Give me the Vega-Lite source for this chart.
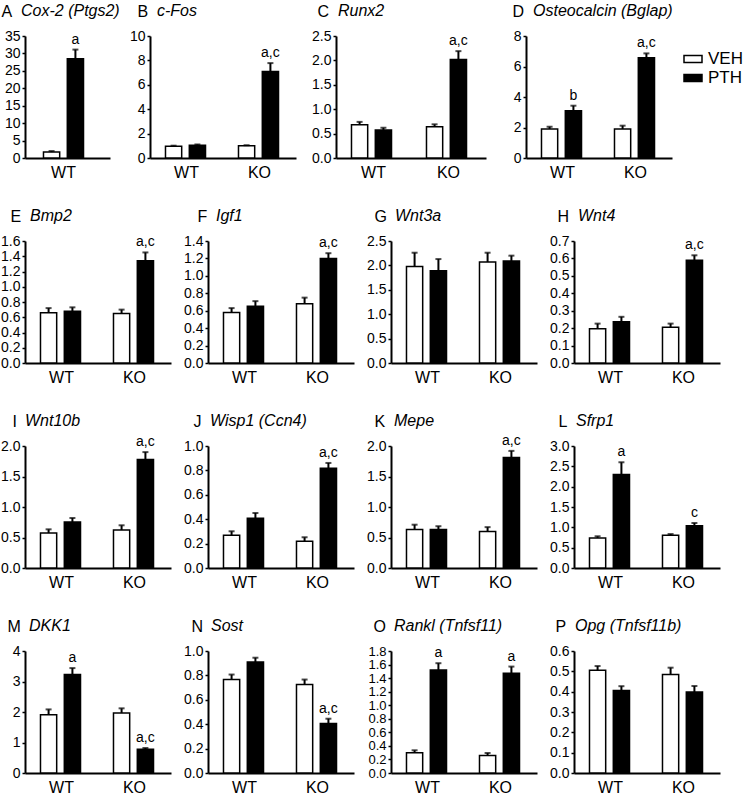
{
  "$schema": "https://vega.github.io/schema/vega-lite/v6.json",
  "padding": {"left": 0, "top": 3, "right": 0, "bottom": 0},
  "background": "white",
  "data": {"values": [
    {"panel":"A","genotype":"WT","treatment":"VEH","value":1.7,"upper":2.0,"label":""},
    {"panel":"A","genotype":"WT","treatment":"PTH","value":28.5,"upper":31.1,"label":"a"},
    {"panel":"B","genotype":"WT","treatment":"VEH","value":0.96,"upper":1.01,"label":""},
    {"panel":"B","genotype":"WT","treatment":"PTH","value":1.04,"upper":1.11,"label":""},
    {"panel":"B","genotype":"KO","treatment":"VEH","value":1.0,"upper":1.05,"label":""},
    {"panel":"B","genotype":"KO","treatment":"PTH","value":7.1,"upper":7.78,"label":"a,c"},
    {"panel":"C","genotype":"WT","treatment":"VEH","value":0.68,"upper":0.74,"label":""},
    {"panel":"C","genotype":"WT","treatment":"PTH","value":0.575,"upper":0.62,"label":""},
    {"panel":"C","genotype":"KO","treatment":"VEH","value":0.64,"upper":0.69,"label":""},
    {"panel":"C","genotype":"KO","treatment":"PTH","value":2.02,"upper":2.19,"label":"a,c"},
    {"panel":"D","genotype":"WT","treatment":"VEH","value":1.9,"upper":2.05,"label":""},
    {"panel":"D","genotype":"WT","treatment":"PTH","value":3.1,"upper":3.43,"label":"b"},
    {"panel":"D","genotype":"KO","treatment":"VEH","value":1.9,"upper":2.12,"label":""},
    {"panel":"D","genotype":"KO","treatment":"PTH","value":6.58,"upper":6.86,"label":"a,c"},
    {"panel":"E","genotype":"WT","treatment":"VEH","value":0.66,"upper":0.72,"label":""},
    {"panel":"E","genotype":"WT","treatment":"PTH","value":0.68,"upper":0.73,"label":""},
    {"panel":"E","genotype":"KO","treatment":"VEH","value":0.65,"upper":0.7,"label":""},
    {"panel":"E","genotype":"KO","treatment":"PTH","value":1.34,"upper":1.45,"label":"a,c"},
    {"panel":"F","genotype":"WT","treatment":"VEH","value":0.58,"upper":0.63,"label":""},
    {"panel":"F","genotype":"WT","treatment":"PTH","value":0.65,"upper":0.71,"label":""},
    {"panel":"F","genotype":"KO","treatment":"VEH","value":0.68,"upper":0.75,"label":""},
    {"panel":"F","genotype":"KO","treatment":"PTH","value":1.2,"upper":1.26,"label":"a,c"},
    {"panel":"G","genotype":"WT","treatment":"VEH","value":1.98,"upper":2.26,"label":""},
    {"panel":"G","genotype":"WT","treatment":"PTH","value":1.89,"upper":2.13,"label":""},
    {"panel":"G","genotype":"KO","treatment":"VEH","value":2.07,"upper":2.26,"label":""},
    {"panel":"G","genotype":"KO","treatment":"PTH","value":2.09,"upper":2.2,"label":""},
    {"panel":"H","genotype":"WT","treatment":"VEH","value":0.196,"upper":0.226,"label":""},
    {"panel":"H","genotype":"WT","treatment":"PTH","value":0.236,"upper":0.265,"label":""},
    {"panel":"H","genotype":"KO","treatment":"VEH","value":0.205,"upper":0.226,"label":""},
    {"panel":"H","genotype":"KO","treatment":"PTH","value":0.589,"upper":0.618,"label":"a,c"},
    {"panel":"I","genotype":"WT","treatment":"VEH","value":0.574,"upper":0.634,"label":""},
    {"panel":"I","genotype":"WT","treatment":"PTH","value":0.754,"upper":0.82,"label":""},
    {"panel":"I","genotype":"KO","treatment":"VEH","value":0.623,"upper":0.7,"label":""},
    {"panel":"I","genotype":"KO","treatment":"PTH","value":1.78,"upper":1.9,"label":"a,c"},
    {"panel":"J","genotype":"WT","treatment":"VEH","value":0.268,"upper":0.301,"label":""},
    {"panel":"J","genotype":"WT","treatment":"PTH","value":0.407,"upper":0.451,"label":""},
    {"panel":"J","genotype":"KO","treatment":"VEH","value":0.219,"upper":0.252,"label":""},
    {"panel":"J","genotype":"KO","treatment":"PTH","value":0.817,"upper":0.861,"label":"a,c"},
    {"panel":"K","genotype":"WT","treatment":"VEH","value":0.63,"upper":0.71,"label":""},
    {"panel":"K","genotype":"WT","treatment":"PTH","value":0.63,"upper":0.685,"label":""},
    {"panel":"K","genotype":"KO","treatment":"VEH","value":0.6,"upper":0.67,"label":""},
    {"panel":"K","genotype":"KO","treatment":"PTH","value":1.81,"upper":1.92,"label":"a,c"},
    {"panel":"L","genotype":"WT","treatment":"VEH","value":0.74,"upper":0.78,"label":""},
    {"panel":"L","genotype":"WT","treatment":"PTH","value":2.3,"upper":2.6,"label":"a"},
    {"panel":"L","genotype":"KO","treatment":"VEH","value":0.805,"upper":0.835,"label":""},
    {"panel":"L","genotype":"KO","treatment":"PTH","value":1.04,"upper":1.106,"label":"c"},
    {"panel":"M","genotype":"WT","treatment":"VEH","value":1.91,"upper":2.085,"label":""},
    {"panel":"M","genotype":"WT","treatment":"PTH","value":3.23,"upper":3.44,"label":"a"},
    {"panel":"M","genotype":"KO","treatment":"VEH","value":1.97,"upper":2.12,"label":""},
    {"panel":"M","genotype":"KO","treatment":"PTH","value":0.78,"upper":0.82,"label":"a,c"},
    {"panel":"N","genotype":"WT","treatment":"VEH","value":0.767,"upper":0.807,"label":""},
    {"panel":"N","genotype":"WT","treatment":"PTH","value":0.91,"upper":0.945,"label":""},
    {"panel":"N","genotype":"KO","treatment":"VEH","value":0.726,"upper":0.766,"label":""},
    {"panel":"N","genotype":"KO","treatment":"PTH","value":0.405,"upper":0.445,"label":"a,c"},
    {"panel":"O","genotype":"WT","treatment":"VEH","value":0.3,"upper":0.335,"label":""},
    {"panel":"O","genotype":"WT","treatment":"PTH","value":1.52,"upper":1.62,"label":"a"},
    {"panel":"O","genotype":"KO","treatment":"VEH","value":0.26,"upper":0.295,"label":""},
    {"panel":"O","genotype":"KO","treatment":"PTH","value":1.47,"upper":1.57,"label":"a"},
    {"panel":"P","genotype":"WT","treatment":"VEH","value":0.505,"upper":0.526,"label":""},
    {"panel":"P","genotype":"WT","treatment":"PTH","value":0.406,"upper":0.427,"label":""},
    {"panel":"P","genotype":"KO","treatment":"VEH","value":0.485,"upper":0.518,"label":""},
    {"panel":"P","genotype":"KO","treatment":"PTH","value":0.398,"upper":0.428,"label":""}
  ]},
  "vconcat": [
    {"hconcat": [
      {"width": 85, "height": 122, "title": {"text": "Cox-2 (Ptgs2)", "dx": -4},
       "transform": [{"filter": "datum.panel === 'A'"}],
       "encoding": {"x": {"field": "genotype", "type": "nominal", "sort": ["WT","KO"], "scale": {"paddingInner": 0, "paddingOuter": 0.0986, "align": 0.214}, "axis": {"title": null}},
                    "xOffset": {"field": "treatment", "type": "nominal", "sort": ["VEH","PTH"], "scale": {"paddingInner": 0.32, "paddingOuter": 0.65}}},
       "layer": [
         {"mark": {"type": "bar", "stroke": "black", "strokeWidth": 1.5}, "encoding": {"y": {"field": "value", "type": "quantitative", "scale": {"domain": [0, 35], "nice": false}, "axis": {"title": "A", "titleX": -24, "values": [0,5,10,15,20,25,30,35], "tickCount": 20, "format": "d"}}, "fill": {"field": "treatment", "type": "nominal", "scale": {"domain": ["VEH","PTH"], "range": ["#ffffff","#000000"]}, "legend": {"title": null}}}},
         {"mark": {"type": "rule", "strokeWidth": 2, "color": "black"}, "encoding": {"y": {"field": "value", "type": "quantitative"}, "y2": {"field": "upper"}}},
         {"mark": {"type": "tick", "thickness": 2, "size": 6, "color": "black"}, "encoding": {"y": {"field": "upper", "type": "quantitative"}}},
         {"mark": {"type": "text", "baseline": "bottom", "dy": -3, "fontSize": 14, "color": "black"}, "encoding": {"y": {"field": "upper", "type": "quantitative"}, "text": {"field": "label"}}}
       ]},
      {"width": 146, "height": 122, "title": {"text": "c-Fos", "dx": 7},
       "transform": [{"filter": "datum.panel === 'B'"}],
       "encoding": {"x": {"field": "genotype", "type": "nominal", "sort": ["WT","KO"], "scale": {"paddingInner": 0, "paddingOuter": 0}, "axis": {"title": null}},
                    "xOffset": {"field": "treatment", "type": "nominal", "sort": ["VEH","PTH"], "scale": {"paddingInner": 0.32, "paddingOuter": 0.65}}},
       "layer": [
         {"mark": {"type": "bar", "stroke": "black", "strokeWidth": 1.5}, "encoding": {"y": {"field": "value", "type": "quantitative", "scale": {"domain": [0, 10], "nice": false}, "axis": {"title": "B", "titleX": -13, "values": [0,2,4,6,8,10], "tickCount": 20, "format": "d"}}, "fill": {"field": "treatment", "type": "nominal", "scale": {"domain": ["VEH","PTH"], "range": ["#ffffff","#000000"]}, "legend": {"title": null}}}},
         {"mark": {"type": "rule", "strokeWidth": 2, "color": "black"}, "encoding": {"y": {"field": "value", "type": "quantitative"}, "y2": {"field": "upper"}}},
         {"mark": {"type": "tick", "thickness": 2, "size": 6, "color": "black"}, "encoding": {"y": {"field": "upper", "type": "quantitative"}}},
         {"mark": {"type": "text", "baseline": "bottom", "dy": -3, "fontSize": 14, "color": "black"}, "encoding": {"y": {"field": "upper", "type": "quantitative"}, "text": {"field": "label"}}}
       ]},
      {"width": 150, "height": 122, "title": {"text": "Runx2", "dx": 2},
       "transform": [{"filter": "datum.panel === 'C'"}],
       "encoding": {"x": {"field": "genotype", "type": "nominal", "sort": ["WT","KO"], "scale": {"paddingInner": 0, "paddingOuter": 0}, "axis": {"title": null}},
                    "xOffset": {"field": "treatment", "type": "nominal", "sort": ["VEH","PTH"], "scale": {"paddingInner": 0.32, "paddingOuter": 0.65}}},
       "layer": [
         {"mark": {"type": "bar", "stroke": "black", "strokeWidth": 1.5}, "encoding": {"y": {"field": "value", "type": "quantitative", "scale": {"domain": [0, 2.5], "nice": false}, "axis": {"title": "C", "titleX": -19, "values": [0,0.5,1,1.5,2,2.5], "tickCount": 20, "format": ".1f"}}, "fill": {"field": "treatment", "type": "nominal", "scale": {"domain": ["VEH","PTH"], "range": ["#ffffff","#000000"]}, "legend": {"title": null}}}},
         {"mark": {"type": "rule", "strokeWidth": 2, "color": "black"}, "encoding": {"y": {"field": "value", "type": "quantitative"}, "y2": {"field": "upper"}}},
         {"mark": {"type": "tick", "thickness": 2, "size": 6, "color": "black"}, "encoding": {"y": {"field": "upper", "type": "quantitative"}}},
         {"mark": {"type": "text", "baseline": "bottom", "dy": -3, "fontSize": 14, "color": "black"}, "encoding": {"y": {"field": "upper", "type": "quantitative"}, "text": {"field": "label"}}}
       ]},
      {"width": 146, "height": 122, "title": {"text": "Osteocalcin (Bglap)", "dx": 7},
       "transform": [{"filter": "datum.panel === 'D'"}],
       "encoding": {"x": {"field": "genotype", "type": "nominal", "sort": ["WT","KO"], "scale": {"paddingInner": 0, "paddingOuter": 0}, "axis": {"title": null}},
                    "xOffset": {"field": "treatment", "type": "nominal", "sort": ["VEH","PTH"], "scale": {"paddingInner": 0.32, "paddingOuter": 0.65}}},
       "layer": [
         {"mark": {"type": "bar", "stroke": "black", "strokeWidth": 1.5}, "encoding": {"y": {"field": "value", "type": "quantitative", "scale": {"domain": [0, 8], "nice": false}, "axis": {"title": "D", "titleX": -14, "values": [0,2,4,6,8], "tickCount": 20, "format": "d"}}, "fill": {"field": "treatment", "type": "nominal", "scale": {"domain": ["VEH","PTH"], "range": ["#ffffff","#000000"]}, "legend": {"title": null}}}},
         {"mark": {"type": "rule", "strokeWidth": 2, "color": "black"}, "encoding": {"y": {"field": "value", "type": "quantitative"}, "y2": {"field": "upper"}}},
         {"mark": {"type": "tick", "thickness": 2, "size": 6, "color": "black"}, "encoding": {"y": {"field": "upper", "type": "quantitative"}}},
         {"mark": {"type": "text", "baseline": "bottom", "dy": -3, "fontSize": 14, "color": "black"}, "encoding": {"y": {"field": "upper", "type": "quantitative"}, "text": {"field": "label"}}}
       ]}
    ], "spacing": 40, "bounds": "flush"},
    {"hconcat": [
      {"width": 146, "height": 122, "title": {"text": "Bmp2", "dx": 5},
       "transform": [{"filter": "datum.panel === 'E'"}],
       "encoding": {"x": {"field": "genotype", "type": "nominal", "sort": ["WT","KO"], "scale": {"paddingInner": 0, "paddingOuter": 0}, "axis": {"title": null}},
                    "xOffset": {"field": "treatment", "type": "nominal", "sort": ["VEH","PTH"], "scale": {"paddingInner": 0.32, "paddingOuter": 0.65}}},
       "layer": [
         {"mark": {"type": "bar", "stroke": "black", "strokeWidth": 1.5}, "encoding": {"y": {"field": "value", "type": "quantitative", "scale": {"domain": [0, 1.6], "nice": false}, "axis": {"title": "E", "titleX": -15, "values": [0,0.2,0.4,0.6,0.8,1,1.2,1.4,1.6], "tickCount": 20, "format": ".1f"}}, "fill": {"field": "treatment", "type": "nominal", "scale": {"domain": ["VEH","PTH"], "range": ["#ffffff","#000000"]}, "legend": {"title": null}}}},
         {"mark": {"type": "rule", "strokeWidth": 2, "color": "black"}, "encoding": {"y": {"field": "value", "type": "quantitative"}, "y2": {"field": "upper"}}},
         {"mark": {"type": "tick", "thickness": 2, "size": 6, "color": "black"}, "encoding": {"y": {"field": "upper", "type": "quantitative"}}},
         {"mark": {"type": "text", "baseline": "bottom", "dy": -3, "fontSize": 14, "color": "black"}, "encoding": {"y": {"field": "upper", "type": "quantitative"}, "text": {"field": "label"}}}
       ]},
      {"width": 146, "height": 122, "title": {"text": "Igf1", "dx": 8},
       "transform": [{"filter": "datum.panel === 'F'"}],
       "encoding": {"x": {"field": "genotype", "type": "nominal", "sort": ["WT","KO"], "scale": {"paddingInner": 0, "paddingOuter": 0}, "axis": {"title": null}},
                    "xOffset": {"field": "treatment", "type": "nominal", "sort": ["VEH","PTH"], "scale": {"paddingInner": 0.32, "paddingOuter": 0.65}}},
       "layer": [
         {"mark": {"type": "bar", "stroke": "black", "strokeWidth": 1.5}, "encoding": {"y": {"field": "value", "type": "quantitative", "scale": {"domain": [0, 1.4], "nice": false}, "axis": {"title": "F", "titleX": -11, "values": [0,0.2,0.4,0.6,0.8,1,1.2,1.4], "tickCount": 20, "format": ".1f"}}, "fill": {"field": "treatment", "type": "nominal", "scale": {"domain": ["VEH","PTH"], "range": ["#ffffff","#000000"]}, "legend": {"title": null}}}},
         {"mark": {"type": "rule", "strokeWidth": 2, "color": "black"}, "encoding": {"y": {"field": "value", "type": "quantitative"}, "y2": {"field": "upper"}}},
         {"mark": {"type": "tick", "thickness": 2, "size": 6, "color": "black"}, "encoding": {"y": {"field": "upper", "type": "quantitative"}}},
         {"mark": {"type": "text", "baseline": "bottom", "dy": -3, "fontSize": 14, "color": "black"}, "encoding": {"y": {"field": "upper", "type": "quantitative"}, "text": {"field": "label"}}}
       ]},
      {"width": 146, "height": 122, "title": {"text": "Wnt3a", "dx": 4},
       "transform": [{"filter": "datum.panel === 'G'"}],
       "encoding": {"x": {"field": "genotype", "type": "nominal", "sort": ["WT","KO"], "scale": {"paddingInner": 0, "paddingOuter": 0}, "axis": {"title": null}},
                    "xOffset": {"field": "treatment", "type": "nominal", "sort": ["VEH","PTH"], "scale": {"paddingInner": 0.32, "paddingOuter": 0.65}}},
       "layer": [
         {"mark": {"type": "bar", "stroke": "black", "strokeWidth": 1.5}, "encoding": {"y": {"field": "value", "type": "quantitative", "scale": {"domain": [0, 2.5], "nice": false}, "axis": {"title": "G", "titleX": -17, "values": [0,0.5,1,1.5,2,2.5], "tickCount": 20, "format": ".1f"}}, "fill": {"field": "treatment", "type": "nominal", "scale": {"domain": ["VEH","PTH"], "range": ["#ffffff","#000000"]}, "legend": {"title": null}}}},
         {"mark": {"type": "rule", "strokeWidth": 2, "color": "black"}, "encoding": {"y": {"field": "value", "type": "quantitative"}, "y2": {"field": "upper"}}},
         {"mark": {"type": "tick", "thickness": 2, "size": 6, "color": "black"}, "encoding": {"y": {"field": "upper", "type": "quantitative"}}},
         {"mark": {"type": "text", "baseline": "bottom", "dy": -3, "fontSize": 14, "color": "black"}, "encoding": {"y": {"field": "upper", "type": "quantitative"}, "text": {"field": "label"}}}
       ]},
      {"width": 146, "height": 122, "title": {"text": "Wnt4", "dx": 4},
       "transform": [{"filter": "datum.panel === 'H'"}],
       "encoding": {"x": {"field": "genotype", "type": "nominal", "sort": ["WT","KO"], "scale": {"paddingInner": 0, "paddingOuter": 0}, "axis": {"title": null}},
                    "xOffset": {"field": "treatment", "type": "nominal", "sort": ["VEH","PTH"], "scale": {"paddingInner": 0.32, "paddingOuter": 0.65}}},
       "layer": [
         {"mark": {"type": "bar", "stroke": "black", "strokeWidth": 1.5}, "encoding": {"y": {"field": "value", "type": "quantitative", "scale": {"domain": [0, 0.7], "nice": false}, "axis": {"title": "H", "titleX": -17, "values": [0,0.1,0.2,0.3,0.4,0.5,0.6,0.7], "tickCount": 20, "format": ".1f"}}, "fill": {"field": "treatment", "type": "nominal", "scale": {"domain": ["VEH","PTH"], "range": ["#ffffff","#000000"]}, "legend": {"title": null}}}},
         {"mark": {"type": "rule", "strokeWidth": 2, "color": "black"}, "encoding": {"y": {"field": "value", "type": "quantitative"}, "y2": {"field": "upper"}}},
         {"mark": {"type": "tick", "thickness": 2, "size": 6, "color": "black"}, "encoding": {"y": {"field": "upper", "type": "quantitative"}}},
         {"mark": {"type": "text", "baseline": "bottom", "dy": -3, "fontSize": 14, "color": "black"}, "encoding": {"y": {"field": "upper", "type": "quantitative"}, "text": {"field": "label"}}}
       ]}
    ], "spacing": 37, "bounds": "flush"},
    {"hconcat": [
      {"width": 146, "height": 122, "title": {"text": "Wnt10b", "dx": 0},
       "transform": [{"filter": "datum.panel === 'I'"}],
       "encoding": {"x": {"field": "genotype", "type": "nominal", "sort": ["WT","KO"], "scale": {"paddingInner": 0, "paddingOuter": 0}, "axis": {"title": null}},
                    "xOffset": {"field": "treatment", "type": "nominal", "sort": ["VEH","PTH"], "scale": {"paddingInner": 0.32, "paddingOuter": 0.65}}},
       "layer": [
         {"mark": {"type": "bar", "stroke": "black", "strokeWidth": 1.5}, "encoding": {"y": {"field": "value", "type": "quantitative", "scale": {"domain": [0, 2], "nice": false}, "axis": {"title": "I", "titleX": -13, "values": [0,0.5,1,1.5,2], "tickCount": 20, "format": ".1f"}}, "fill": {"field": "treatment", "type": "nominal", "scale": {"domain": ["VEH","PTH"], "range": ["#ffffff","#000000"]}, "legend": {"title": null}}}},
         {"mark": {"type": "rule", "strokeWidth": 2, "color": "black"}, "encoding": {"y": {"field": "value", "type": "quantitative"}, "y2": {"field": "upper"}}},
         {"mark": {"type": "tick", "thickness": 2, "size": 6, "color": "black"}, "encoding": {"y": {"field": "upper", "type": "quantitative"}}},
         {"mark": {"type": "text", "baseline": "bottom", "dy": -3, "fontSize": 14, "color": "black"}, "encoding": {"y": {"field": "upper", "type": "quantitative"}, "text": {"field": "label"}}}
       ]},
      {"width": 146, "height": 122, "title": {"text": "Wisp1 (Ccn4)", "dx": 2},
       "transform": [{"filter": "datum.panel === 'J'"}],
       "encoding": {"x": {"field": "genotype", "type": "nominal", "sort": ["WT","KO"], "scale": {"paddingInner": 0, "paddingOuter": 0}, "axis": {"title": null}},
                    "xOffset": {"field": "treatment", "type": "nominal", "sort": ["VEH","PTH"], "scale": {"paddingInner": 0.32, "paddingOuter": 0.65}}},
       "layer": [
         {"mark": {"type": "bar", "stroke": "black", "strokeWidth": 1.5}, "encoding": {"y": {"field": "value", "type": "quantitative", "scale": {"domain": [0, 1], "nice": false}, "axis": {"title": "J", "titleX": -15, "values": [0,0.2,0.4,0.6,0.8,1], "tickCount": 20, "format": ".1f"}}, "fill": {"field": "treatment", "type": "nominal", "scale": {"domain": ["VEH","PTH"], "range": ["#ffffff","#000000"]}, "legend": {"title": null}}}},
         {"mark": {"type": "rule", "strokeWidth": 2, "color": "black"}, "encoding": {"y": {"field": "value", "type": "quantitative"}, "y2": {"field": "upper"}}},
         {"mark": {"type": "tick", "thickness": 2, "size": 6, "color": "black"}, "encoding": {"y": {"field": "upper", "type": "quantitative"}}},
         {"mark": {"type": "text", "baseline": "bottom", "dy": -3, "fontSize": 14, "color": "black"}, "encoding": {"y": {"field": "upper", "type": "quantitative"}, "text": {"field": "label"}}}
       ]},
      {"width": 146, "height": 122, "title": {"text": "Mepe", "dx": 3},
       "transform": [{"filter": "datum.panel === 'K'"}],
       "encoding": {"x": {"field": "genotype", "type": "nominal", "sort": ["WT","KO"], "scale": {"paddingInner": 0, "paddingOuter": 0}, "axis": {"title": null}},
                    "xOffset": {"field": "treatment", "type": "nominal", "sort": ["VEH","PTH"], "scale": {"paddingInner": 0.32, "paddingOuter": 0.65}}},
       "layer": [
         {"mark": {"type": "bar", "stroke": "black", "strokeWidth": 1.5}, "encoding": {"y": {"field": "value", "type": "quantitative", "scale": {"domain": [0, 2], "nice": false}, "axis": {"title": "K", "titleX": -17, "values": [0,0.5,1,1.5,2], "tickCount": 20, "format": ".1f"}}, "fill": {"field": "treatment", "type": "nominal", "scale": {"domain": ["VEH","PTH"], "range": ["#ffffff","#000000"]}, "legend": {"title": null}}}},
         {"mark": {"type": "rule", "strokeWidth": 2, "color": "black"}, "encoding": {"y": {"field": "value", "type": "quantitative"}, "y2": {"field": "upper"}}},
         {"mark": {"type": "tick", "thickness": 2, "size": 6, "color": "black"}, "encoding": {"y": {"field": "upper", "type": "quantitative"}}},
         {"mark": {"type": "text", "baseline": "bottom", "dy": -3, "fontSize": 14, "color": "black"}, "encoding": {"y": {"field": "upper", "type": "quantitative"}, "text": {"field": "label"}}}
       ]},
      {"width": 146, "height": 122, "title": {"text": "Sfrp1", "dx": 2},
       "transform": [{"filter": "datum.panel === 'L'"}],
       "encoding": {"x": {"field": "genotype", "type": "nominal", "sort": ["WT","KO"], "scale": {"paddingInner": 0, "paddingOuter": 0}, "axis": {"title": null}},
                    "xOffset": {"field": "treatment", "type": "nominal", "sort": ["VEH","PTH"], "scale": {"paddingInner": 0.32, "paddingOuter": 0.65}}},
       "layer": [
         {"mark": {"type": "bar", "stroke": "black", "strokeWidth": 1.5}, "encoding": {"y": {"field": "value", "type": "quantitative", "scale": {"domain": [0, 3], "nice": false}, "axis": {"title": "L", "titleX": -16, "values": [0,0.5,1,1.5,2,2.5,3], "tickCount": 20, "format": ".1f"}}, "fill": {"field": "treatment", "type": "nominal", "scale": {"domain": ["VEH","PTH"], "range": ["#ffffff","#000000"]}, "legend": {"title": null}}}},
         {"mark": {"type": "rule", "strokeWidth": 2, "color": "black"}, "encoding": {"y": {"field": "value", "type": "quantitative"}, "y2": {"field": "upper"}}},
         {"mark": {"type": "tick", "thickness": 2, "size": 6, "color": "black"}, "encoding": {"y": {"field": "upper", "type": "quantitative"}}},
         {"mark": {"type": "text", "baseline": "bottom", "dy": -3, "fontSize": 14, "color": "black"}, "encoding": {"y": {"field": "upper", "type": "quantitative"}, "text": {"field": "label"}}}
       ]}
    ], "spacing": 37, "bounds": "flush"},
    {"hconcat": [
      {"width": 146, "height": 122, "title": {"text": "DKK1", "dx": 4},
       "transform": [{"filter": "datum.panel === 'M'"}],
       "encoding": {"x": {"field": "genotype", "type": "nominal", "sort": ["WT","KO"], "scale": {"paddingInner": 0, "paddingOuter": 0}, "axis": {"title": null}},
                    "xOffset": {"field": "treatment", "type": "nominal", "sort": ["VEH","PTH"], "scale": {"paddingInner": 0.32, "paddingOuter": 0.65}}},
       "layer": [
         {"mark": {"type": "bar", "stroke": "black", "strokeWidth": 1.5}, "encoding": {"y": {"field": "value", "type": "quantitative", "scale": {"domain": [0, 4], "nice": false}, "axis": {"title": "M", "titleX": -18, "values": [0,1,2,3,4], "tickCount": 20, "format": "d"}}, "fill": {"field": "treatment", "type": "nominal", "scale": {"domain": ["VEH","PTH"], "range": ["#ffffff","#000000"]}, "legend": {"title": null}}}},
         {"mark": {"type": "rule", "strokeWidth": 2, "color": "black"}, "encoding": {"y": {"field": "value", "type": "quantitative"}, "y2": {"field": "upper"}}},
         {"mark": {"type": "tick", "thickness": 2, "size": 6, "color": "black"}, "encoding": {"y": {"field": "upper", "type": "quantitative"}}},
         {"mark": {"type": "text", "baseline": "bottom", "dy": -3, "fontSize": 14, "color": "black"}, "encoding": {"y": {"field": "upper", "type": "quantitative"}, "text": {"field": "label"}}}
       ]},
      {"width": 146, "height": 122, "title": {"text": "Sost", "dx": 3},
       "transform": [{"filter": "datum.panel === 'N'"}],
       "encoding": {"x": {"field": "genotype", "type": "nominal", "sort": ["WT","KO"], "scale": {"paddingInner": 0, "paddingOuter": 0}, "axis": {"title": null}},
                    "xOffset": {"field": "treatment", "type": "nominal", "sort": ["VEH","PTH"], "scale": {"paddingInner": 0.32, "paddingOuter": 0.65}}},
       "layer": [
         {"mark": {"type": "bar", "stroke": "black", "strokeWidth": 1.5}, "encoding": {"y": {"field": "value", "type": "quantitative", "scale": {"domain": [0, 1], "nice": false}, "axis": {"title": "N", "titleX": -17, "values": [0,0.2,0.4,0.6,0.8,1], "tickCount": 20, "format": ".1f"}}, "fill": {"field": "treatment", "type": "nominal", "scale": {"domain": ["VEH","PTH"], "range": ["#ffffff","#000000"]}, "legend": {"title": null}}}},
         {"mark": {"type": "rule", "strokeWidth": 2, "color": "black"}, "encoding": {"y": {"field": "value", "type": "quantitative"}, "y2": {"field": "upper"}}},
         {"mark": {"type": "tick", "thickness": 2, "size": 6, "color": "black"}, "encoding": {"y": {"field": "upper", "type": "quantitative"}}},
         {"mark": {"type": "text", "baseline": "bottom", "dy": -3, "fontSize": 14, "color": "black"}, "encoding": {"y": {"field": "upper", "type": "quantitative"}, "text": {"field": "label"}}}
       ]},
      {"width": 146, "height": 122, "title": {"text": "Rankl (Tnfsf11)", "dx": 3},
       "transform": [{"filter": "datum.panel === 'O'"}],
       "encoding": {"x": {"field": "genotype", "type": "nominal", "sort": ["WT","KO"], "scale": {"paddingInner": 0, "paddingOuter": 0}, "axis": {"title": null}},
                    "xOffset": {"field": "treatment", "type": "nominal", "sort": ["VEH","PTH"], "scale": {"paddingInner": 0.32, "paddingOuter": 0.65}}},
       "layer": [
         {"mark": {"type": "bar", "stroke": "black", "strokeWidth": 1.5}, "encoding": {"y": {"field": "value", "type": "quantitative", "scale": {"domain": [0, 1.8], "nice": false}, "axis": {"title": "O", "titleX": -18, "labelFontSize": 13, "values": [0,0.2,0.4,0.6,0.8,1,1.2,1.4,1.6,1.8], "tickCount": 20, "format": ".1f"}}, "fill": {"field": "treatment", "type": "nominal", "scale": {"domain": ["VEH","PTH"], "range": ["#ffffff","#000000"]}, "legend": {"title": null}}}},
         {"mark": {"type": "rule", "strokeWidth": 2, "color": "black"}, "encoding": {"y": {"field": "value", "type": "quantitative"}, "y2": {"field": "upper"}}},
         {"mark": {"type": "tick", "thickness": 2, "size": 6, "color": "black"}, "encoding": {"y": {"field": "upper", "type": "quantitative"}}},
         {"mark": {"type": "text", "baseline": "bottom", "dy": -3, "fontSize": 14, "color": "black"}, "encoding": {"y": {"field": "upper", "type": "quantitative"}, "text": {"field": "label"}}}
       ]},
      {"width": 146, "height": 122, "title": {"text": "Opg (Tnfsf11b)", "dx": 1},
       "transform": [{"filter": "datum.panel === 'P'"}],
       "encoding": {"x": {"field": "genotype", "type": "nominal", "sort": ["WT","KO"], "scale": {"paddingInner": 0, "paddingOuter": 0}, "axis": {"title": null}},
                    "xOffset": {"field": "treatment", "type": "nominal", "sort": ["VEH","PTH"], "scale": {"paddingInner": 0.32, "paddingOuter": 0.65}}},
       "layer": [
         {"mark": {"type": "bar", "stroke": "black", "strokeWidth": 1.5}, "encoding": {"y": {"field": "value", "type": "quantitative", "scale": {"domain": [0, 0.6], "nice": false}, "axis": {"title": "P", "titleX": -19, "values": [0,0.1,0.2,0.3,0.4,0.5,0.6], "tickCount": 20, "format": ".1f"}}, "fill": {"field": "treatment", "type": "nominal", "scale": {"domain": ["VEH","PTH"], "range": ["#ffffff","#000000"]}, "legend": {"title": null}}}},
         {"mark": {"type": "rule", "strokeWidth": 2, "color": "black"}, "encoding": {"y": {"field": "value", "type": "quantitative"}, "y2": {"field": "upper"}}},
         {"mark": {"type": "tick", "thickness": 2, "size": 6, "color": "black"}, "encoding": {"y": {"field": "upper", "type": "quantitative"}}},
         {"mark": {"type": "text", "baseline": "bottom", "dy": -3, "fontSize": 14, "color": "black"}, "encoding": {"y": {"field": "upper", "type": "quantitative"}, "text": {"field": "label"}}}
       ]}
    ], "spacing": 37, "bounds": "flush"}
  ],
  "spacing": 28,
  "config": {
    "font": "Liberation Sans",
    "view": {"stroke": null},
    "axis": {"grid": false, "domainColor": "black", "domainWidth": 2, "labelColor": "black", "labelFont": "Liberation Sans", "tickColor": "black", "labelOverlap": false},
    "axisX": {"ticks": false, "tickSize": 0, "labelFontSize": 16, "labelPadding": 6, "labelAngle": 0},
    "axisY": {"tickSize": 3, "tickWidth": 1.5, "labelFontSize": 14, "labelPadding": 2, "titleAngle": 0, "titleAlign": "left", "titleBaseline": "alphabetic", "titleY": -20, "titleFont": "Liberation Sans", "titleFontSize": 16, "titleFontWeight": "normal", "titleColor": "black"},
    "title": {"anchor": "start", "frame": "group", "font": "Liberation Sans", "fontSize": 16, "fontStyle": "italic", "fontWeight": "normal", "color": "black", "offset": -16},
    "legend": {"orient": "none", "legendX": 658, "legendY": 13, "labelFont": "Liberation Sans", "labelFontSize": 17, "labelColor": "black", "symbolType": "M-1,-0.38H1V0.38H-1Z", "symbolSize": 324, "symbolStrokeColor": "black", "symbolStrokeWidth": 1.5, "rowPadding": 1, "labelOffset": 5}
  }
}
